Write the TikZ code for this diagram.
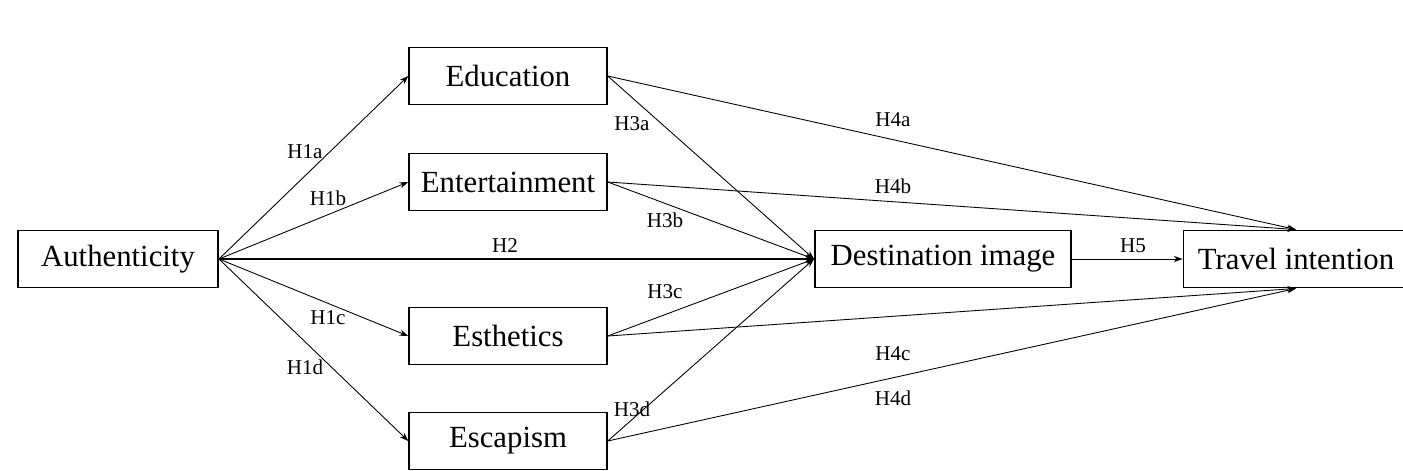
\documentclass[tikz,border=0pt]{standalone}
\usepackage{fontspec}
\setmainfont{Liberation Serif}
\usepackage{tikz}
\usetikzlibrary{
    arrows.meta,
    positioning
}

\begin{document}
\begin{tikzpicture}[
    box/.style={draw, line width=1.1pt, minimum height=1.14cm, inner sep=0pt, font=\fontsize{17.5}{20}\selectfont},
    hyp/.style={font=\fontsize{12}{14}\selectfont, inner sep=1pt},
    >={Stealth[length=5pt, width=3.5pt]}
]
                        \useasboundingbox (0, 0) rectangle (28.06, -9.40);

                        \node[box, minimum width=4cm] (auth) at (2.36, -5.18) {Authenticity};
                        \node[box, minimum width=3.95cm] (edu) at (10.16, -1.52) {Education};
                        \node[box, minimum width=3.95cm] (ent) at (10.16, -3.64) {Entertainment};
                        \node[box, minimum width=3.95cm] (est) at (10.16, -6.72) {Esthetics};
                        \node[box, minimum width=3.95cm] (esc) at (10.16, -8.82) {Escapism};
                        \node[box, minimum width=5.12cm] (di) at (18.86, -5.18) {Destination image};
                        \node[box, minimum width=4.5cm] (ti) at (25.92, -5.18) {Travel intention};

                        \node[hyp] (h1a) at (6.10, -3.04) {H1a};
                        \node[hyp] (h1b) at (6.56, -3.96) {H1b};
                        \node[hyp] (h2) at (10.10, -4.92) {H2};
                        \node[hyp] (h1c) at (6.56, -6.36) {H1c};
                        \node[hyp] (h1d) at (6.10, -7.34) {H1d};
                        \node[hyp] (h3a) at (12.64, -2.48) {H3a};
                        \node[hyp] (h3b) at (13.30, -4.40) {H3b};
                        \node[hyp] (h3c) at (13.30, -5.84) {H3c};
                        \node[hyp] (h3d) at (12.64, -8.18) {H3d};
                        \node[hyp] (h4a) at (17.86, -2.40) {H4a};
                        \node[hyp] (h4b) at (17.86, -3.72) {H4b};
                        \node[hyp] (h4c) at (17.86, -7.08) {H4c};
                        \node[hyp] (h4d) at (17.86, -7.96) {H4d};
                        \node[hyp] (h5) at (22.66, -4.92) {H5};

                        \draw[line width=0.5pt]
                        (auth.east) edge[->] (edu.west)
                        (auth.east) edge[->] (ent.west)
                        (auth.east) edge[->] (est.west)
                        (auth.east) edge[->] (esc.west)
                        (auth.east) edge[->, line width=0.8pt] (di.west)
                        (edu.east) edge[->] (di.west)
                        (ent.east) edge[->] (di.west)
                        (est.east) edge[->] (di.west)
                        (esc.east) edge[->] (di.west)
                        (edu.east) edge[->] (ti.north)
                        (ent.east) edge[->] (ti.north)
                        (est.east) edge[->] (ti.south)
                        (esc.east) edge[->] (ti.south)
                        (di.east) edge[->] (ti.west);
                    \end{tikzpicture}
\end{document}
